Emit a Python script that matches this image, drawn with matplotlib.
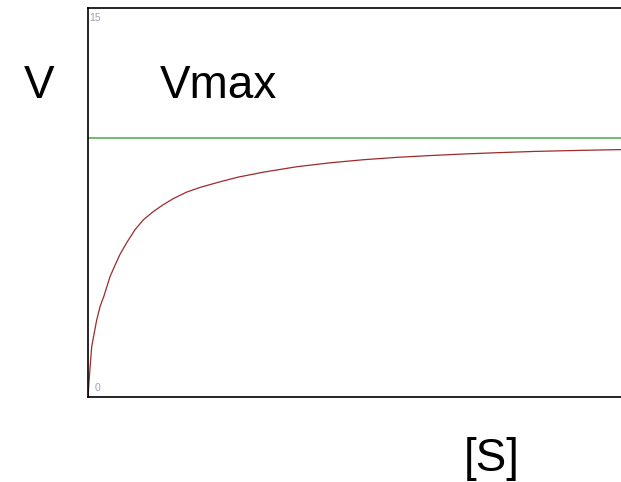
import matplotlib
matplotlib.use("Agg")
import matplotlib.pyplot as plt

# Data
substrate = [0, 0.3, 0.69, 1.2, 1.63, 2.25, 3.0, 4.13, 5.0, 6.0, 7.26, 8.82, 10.37,
             12.25, 14.0, 16.0, 18.5, 21.0, 24.8, 28.2, 32.9, 39.2, 45.4, 51.7,
             57.9, 64.2, 70.4, 76.7, 83.9, 92.3, 100]
velocity = [0, 0.9, 1.94, 2.5, 2.97, 3.48, 3.9, 4.64, 5.05, 5.50, 5.95, 6.45, 6.83,
            7.15, 7.40, 7.65, 7.90, 8.08, 8.30, 8.48, 8.67, 8.88, 9.03, 9.15,
            9.24, 9.31, 9.37, 9.42, 9.47, 9.51, 9.54]
vmax = 10
y_tick_values = [0, 15]
y_tick_labels = ["0", "15"]
x_range = [0, 100]

plt.rcParams['font.family'] = ['Liberation Sans', 'DejaVu Sans']

fig = plt.figure(figsize=(6.21, 4.82), dpi=100)
ax = fig.add_axes([88/621, 85/482, 533/621, 389/482])

ax.plot(substrate, velocity, color='#9e2a2b', lw=0.9, solid_joinstyle='round')
ax.axhline(vmax, color='#4ca64c', lw=1.1)

ax.set_xlim(x_range)
ax.set_ylim(y_tick_values[0], y_tick_values[-1])
ax.set_xticks([])
ax.set_yticks([])
for s in ['left', 'top', 'bottom']:
    ax.spines[s].set_linewidth(1.2)
    ax.spines[s].set_color('black')
ax.spines['right'].set_visible(False)

# inner tick labels
ax.annotate(y_tick_labels[1], xy=(0, y_tick_values[1]), xytext=(9, -7.5),
            textcoords='offset points', ha='right', va='center',
            fontsize=7.5, color='#9aa3ad')
ax.annotate(y_tick_labels[0], xy=(0, y_tick_values[0]), xytext=(9, 6.7),
            textcoords='offset points', ha='right', va='center',
            fontsize=7.5, color='#9aa3ad')

fig.text(39/621, 1 - 86/482, 'V', fontsize=33, ha='center', va='center')
fig.text(218/621, 1 - 86/482, 'Vmax', fontsize=33, ha='center', va='center')
fig.text(492/621, 1 - 459/482, '[S]', fontsize=33, ha='center', va='center')

fig.savefig('out.png', dpi=100)
